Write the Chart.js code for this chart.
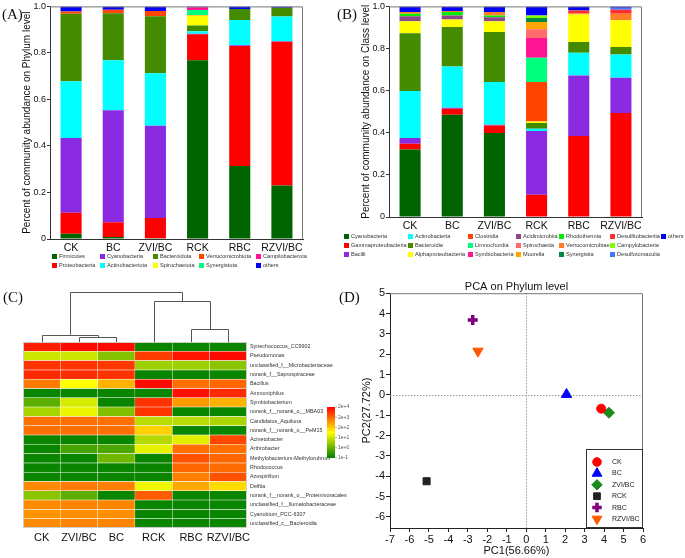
<!DOCTYPE html>
<html><head><meta charset="utf-8">
<script src="https://cdn.jsdelivr.net/npm/chart.js@4.4.0/dist/chart.umd.min.js"></script>
<style>
body{margin:0;background:#fff;width:685px;height:558px;overflow:hidden;position:relative;font-family:'Liberation Sans',Arial,sans-serif}
canvas{position:absolute}
.lbl{position:absolute;font-family:'Liberation Serif','Times New Roman',serif;font-size:15px;color:#111;line-height:1}
.leg{position:absolute;font-size:5.6px;color:#333;white-space:nowrap;line-height:6px}
.leg .sw{display:inline-block;width:5px;height:5px;vertical-align:-1px;margin-right:2px}
</style></head><body>
<canvas id="cA" width="310" height="252" style="left:0;top:0"></canvas>
<canvas id="cB" width="310" height="230" style="left:340px;top:0"></canvas>
<canvas id="cC" width="360" height="262" style="left:0;top:285px"></canvas>
<canvas id="cD" width="345" height="278" style="left:340px;top:280px"></canvas>
<div class="lbl" style="left:2px;top:7px">(A)</div>
<div class="lbl" style="left:337px;top:7px">(B)</div>
<div class="lbl" style="left:3px;top:290px">(C)</div>
<div class="lbl" style="left:339px;top:290px">(D)</div>
<script>
// ---------- DATA ----------
const samples = ['CK','BC','ZVI/BC','RCK','RBC','RZVI/BC'];

const phylumNames = ['Firmicutes','Proteobacteria','Cyanobacteria','Actinobacteriota','Bacteroidota','Spirochaetota','Verrucomicrobiota','Synergistota','Campilobacterota','others'];
const phylumColors = ['#006400','#ff0000','#8a2be2','#00ffff','#458b00','#ffff00','#ff4500','#00ff7f','#ff1493','#0000ff'];
const phylumValues = [
  [0.023,0.009,0.003,0.768,0.314,0.230],
  [0.090,0.063,0.087,0.112,0.516,0.618],
  [0.321,0.481,0.397,0.002,0.003,0.002],
  [0.244,0.215,0.226,0.011,0.108,0.107],
  [0.290,0.203,0.245,0.025,0.048,0.037],
  [0,0,0,0.043,0,0],
  [0.010,0.015,0.022,0.002,0,0],
  [0,0,0,0.022,0,0],
  [0,0,0,0.011,0,0],
  [0.022,0.014,0.020,0.004,0.011,0.006]
];

const classNames = ['Cyanobacteria','Gammaproteobacteria','Bacilli','Actinobacteria','Bacteroidia','Alphaproteobacteria','Clostridia','Limnochordia','Symbiobacteria','Acidimicrobiia','Spirochaetia','Moorella','Rhodothermia','Verrucomicrobiae','Synergistia','Desulfitobacteriia','Campylobacteria','Desulfotomaculia','others'];
const classColors = ['#006400','#ff0000','#8a2be2','#00ffff','#458b00','#ffff00','#ff4500','#00ff7f','#ff1493','#8b4789','#ff6a6a','#ffa500','#00ee00','#ff7f24','#008b45','#ff3030','#7fff00','#4876ff','#0000ff'];
const classValues = [
  [0.321,0.486,0.399,0,0,0],
  [0.027,0.028,0.036,0.106,0.385,0.494],
  [0.027,0.005,0.003,0.302,0.287,0.167],
  [0.223,0.196,0.203,0.011,0.108,0.111],
  [0.275,0.187,0.237,0.027,0.051,0.035],
  [0.057,0.036,0.052,0.008,0.131,0.127],
  [0,0,0,0.187,0,0],
  [0,0,0,0.115,0,0],
  [0,0,0,0.094,0,0],
  [0.023,0.019,0.019,0,0,0],
  [0,0,0,0.041,0,0],
  [0,0,0,0.035,0,0],
  [0.012,0.016,0.008,0,0,0],
  [0.008,0.005,0.016,0,0.005,0.031],
  [0,0,0,0.019,0,0],
  [0,0,0,0,0.014,0.019],
  [0,0,0,0.012,0,0],
  [0,0,0,0,0,0.010],
  [0.027,0.022,0.027,0.043,0.019,0.006]
];
const yTicksAB = [0,0.2,0.4,0.6,0.8,1.0];

const heatCols = ['CK','ZVI/BC','BC','RCK','RBC','RZVI/BC'];
const heatRows = ['Synechococcus_CC9902','Pseudomonas','unclassified_f__Microbacteriaceae','norank_f__Saprospiraceae','Bacillus','Ammoniphilus','Symbiobacterium','norank_f__norank_o__MBA03','Candidatus_Aquiluna','norank_f__norank_o__PeM15','Acinetobacter','Arthrobacter','Methylobacterium-Methylorubrum','Rhodococcus','Azospirillum','Delftia','norank_f__norank_o__Proteinivoracales','unclassified_f__Ilumatobacteraceae','Cyanobium_PCC-6307','unclassified_c__Bacteroidia'];
const heatValues = [
  [0.94,0.98,0.98,0.02,0.02,0.02],
  [0.40,0.40,0.26,0.88,0.96,0.98],
  [0.90,0.90,0.89,0.31,0.31,0.27],
  [0.92,0.91,0.90,0.02,0.02,0.02],
  [0.76,0.50,0.65,0.98,0.78,0.80],
  [0.02,0.02,0.02,0.02,0.97,0.92],
  [0.18,0.42,0.02,0.90,0.70,0.65],
  [0.33,0.46,0.25,0.90,0.02,0.02],
  [0.78,0.78,0.78,0.36,0.36,0.34],
  [0.78,0.78,0.78,0.59,0.02,0.02],
  [0.02,0.02,0.02,0.35,0.44,0.86],
  [0.02,0.14,0.15,0.45,0.78,0.78],
  [0.02,0.02,0.22,0.02,0.84,0.80],
  [0.02,0.02,0.02,0.02,0.80,0.79],
  [0.02,0.02,0.02,0.02,0.75,0.84],
  [0.73,0.76,0.75,0.47,0.67,0.57],
  [0.27,0.18,0.02,0.82,0.02,0.02],
  [0.73,0.74,0.74,0.02,0.02,0.02],
  [0.71,0.72,0.72,0.02,0.02,0.02],
  [0.73,0.74,0.74,0.02,0.02,0.02]
];
// dendrogram merges: [nodeA, nodeB, height]; 0-5 leaves (heatCols order), 6+ merged nodes
const dendroMerges = [[1,2,0.5],[0,6,0.73],[4,5,1.27],[3,8,4.1],[7,9,5.0]];
const colorbarLabels = ['2e+4','2e+3','2e+2','1e+1','1e+0','1e-1'];

const pcaSamples = ['CK','BC','ZVI/BC','RCK','RBC','RZVI/BC'];
const pc1 = [3.85, 2.07, 4.25, -5.12, -2.75, -2.48];
const pc2 = [-0.68, 0.02, -0.88, -4.25, 3.68, 2.15];
const pcaColors = ['#ff0000','#0000ff','#1a8a1a','#222222','#800080','#ff5a00'];
const pcaStyles = ['circle','triangle','rectRot','rect','cross','triangle'];
const pcaRotation = [0,0,0,0,0,180];
const pcaRadius = [4.5,6,5.5,5,5,6];
const pcaBorder = [1,1,1,1,3.5,1];

// ---------- HELPERS ----------
Chart.defaults.font.family = "'Liberation Sans', Arial, sans-serif";
Chart.defaults.color = '#111';

const framePlugin = {id:'frame', afterDraw(chart){
  const {ctx, chartArea:a} = chart;
  ctx.save(); ctx.strokeStyle = '#777'; ctx.lineWidth = 1;
  ctx.beginPath();
  ctx.moveTo(a.left, a.top+0.5); ctx.lineTo(a.right-0.5, a.top+0.5); ctx.lineTo(a.right-0.5, a.bottom);
  ctx.stroke(); ctx.restore();
}};

function heatColor(v){
  let r,g,b;
  if (v < 0.5){ const t = v/0.5; r = Math.round(0 + 255*t); g = Math.round(128 + 127*t); b = 0; }
  else { const t = (v-0.5)/0.5; r = 255; g = Math.round(255*(1-t)); b = 0; }
  return `rgb(${r},${g},${b})`;
}

function buildLegend(names, colors, rows, colX, rowY){
  names.forEach((n,i)=>{
    const c = Math.floor(i/rows), r = i % rows;
    const d = document.createElement('div'); d.className = 'leg';
    d.style.left = colX[c] + 'px'; d.style.top = (rowY[r] - 3) + 'px';
    d.innerHTML = `<span class="sw" style="background:${colors[i]}"></span>${n}`;
    document.body.appendChild(d);
  });
}

function stackedBar(id, names, colors, values, yTitle, yWidth, titlePad, padRight, xHeight){
  return new Chart(document.getElementById(id), {
    type:'bar',
    data:{labels:samples, datasets:names.map((n,i)=>({label:n, data:values[i], backgroundColor:colors[i], borderWidth:0, barPercentage:0.5, categoryPercentage:1}))},
    options:{responsive:false, animation:false,
      layout:{padding:{top:6, right:padRight, left:0, bottom:0}},
      plugins:{legend:{display:false}, tooltip:{enabled:false}},
      scales:{
        x:{stacked:true, grid:{display:false, drawTicks:false}, border:{color:'#333'},
           ticks:{font:{size:10.5}, color:'#111', padding:3, maxRotation:0, minRotation:0, autoSkip:false},
           afterFit:s=>{s.height = xHeight;}},
        y:{stacked:true, min:0, max:1,
           afterBuildTicks:s=>{s.ticks = yTicksAB.map(v=>({value:v}));},
           ticks:{callback:v=> v===0 ? '0' : v.toFixed(1), font:{size:9}, color:'#111', padding:1},
           grid:{drawOnChartArea:false, tickLength:3, color:'#333'}, border:{color:'#333'},
           title:{display:true, text:yTitle, font:{size:10}, color:'#111', padding:{top:titlePad, bottom:0}},
           afterFit:s=>{s.width = yWidth;}}
      }},
    plugins:[framePlugin]
  });
}

// ---------- PANEL A ----------
stackedBar('cA', phylumNames, phylumColors, phylumValues, 'Percent of community abundance on Phylum level', 50, 21, 7, 13);
buildLegend(phylumNames, phylumColors, 2, [52,100,153,199,256], [256,265]);

// ---------- PANEL B ----------
stackedBar('cB', classNames, classColors, classValues, 'Percent of community abundance on Class level', 49, 20, 8, 13);
buildLegend(classNames, classColors, 3, [344,408,468,516,559,610,661], [236,245,254]);

// ---------- PANEL C ----------
const dendroPlugin = {id:'dendro', afterDraw(chart){
  const {ctx, chartArea, scales:{x}} = chart;
  const base = chartArea.top, k = 10;
  const nodes = heatCols.map((c,i)=>({x:x.getPixelForValue(i+0.5), h:0}));
  ctx.save(); ctx.strokeStyle = '#555'; ctx.lineWidth = 1; ctx.beginPath();
  dendroMerges.forEach(([a,b,h])=>{
    const A = nodes[a], B = nodes[b];
    const yA = base - A.h*k, yB = base - B.h*k, yM = Math.round(base - h*k) + 0.5;
    const xA = Math.round(A.x)+0.5, xB = Math.round(B.x)+0.5;
    ctx.moveTo(xA, yA); ctx.lineTo(xA, yM); ctx.lineTo(xB, yM); ctx.lineTo(xB, yB);
    nodes.push({x:(A.x+B.x)/2, h:h});
  });
  ctx.stroke();
  ctx.strokeStyle = '#cccccc';
  ctx.strokeRect(chartArea.left+0.5, chartArea.top+0.5, chartArea.right-chartArea.left-1, chartArea.bottom-chartArea.top-1);
  ctx.restore();
}};
const colorbarPlugin = {id:'cbar', afterDraw(chart){
  const ctx = chart.ctx;
  const x0 = 327, w = 8, top = 122, bottom = 173;
  ctx.save();
  const g = ctx.createLinearGradient(0, bottom, 0, top);
  for (let i=0;i<=10;i++){ g.addColorStop(i/10, heatColor(i/10)); }
  ctx.fillStyle = g; ctx.fillRect(x0, top, w, bottom-top);
  ctx.strokeStyle = '#777'; ctx.lineWidth = 0.6;
  ctx.fillStyle = '#555'; ctx.font = "5px 'Liberation Sans', Arial, sans-serif"; ctx.textBaseline = 'middle';
  colorbarLabels.forEach((t,i)=>{
    const y = top + (bottom-top)*i/(colorbarLabels.length-1);
    ctx.beginPath(); ctx.moveTo(x0+w, y); ctx.lineTo(x0+w+2, y); ctx.stroke();
    ctx.fillText(t, x0+w+3, y);
  });
  ctx.restore();
}};
new Chart(document.getElementById('cC'), {
  type:'bar',
  data:{labels:heatRows, datasets:heatCols.map((c,j)=>({label:c, data:heatRows.map(()=>1),
    backgroundColor:heatRows.map((r,i)=>heatColor(heatValues[i][j])),
    borderColor:'rgba(255,255,255,0.5)', borderWidth:0.6, barPercentage:1, categoryPercentage:1}))},
  options:{indexAxis:'y', responsive:false, animation:false,
    layout:{padding:{top:57, left:23, right:0, bottom:0}},
    plugins:{legend:{display:false}, tooltip:{enabled:false}},
    scales:{
      x:{stacked:true, min:0, max:6,
         afterBuildTicks:s=>{s.ticks = heatCols.map((c,i)=>({value:i+0.5}));},
         ticks:{callback:(v,i)=>heatCols[i], font:{size:11}, color:'#111', padding:3, autoSkip:false, maxRotation:0, minRotation:0},
         grid:{display:false, drawTicks:false}, border:{display:false}, afterFit:s=>{s.height = 19;}},
      y:{stacked:true, position:'right',
         ticks:{font:{size:5.4}, color:'#333', padding:3, autoSkip:false},
         grid:{display:false, drawTicks:false}, border:{display:false}, afterFit:s=>{s.width = 113;}}
    }},
  plugins:[dendroPlugin, colorbarPlugin]
});

// ---------- PANEL D ----------
const zeroLinePlugin = {id:'zero', beforeDatasetsDraw(chart){
  const {ctx, chartArea:a, scales:{x,y}} = chart;
  const px = Math.round(x.getPixelForValue(0))+0.5, py = Math.round(y.getPixelForValue(0))+0.5;
  ctx.save(); ctx.strokeStyle = '#999'; ctx.lineWidth = 1; ctx.setLineDash([1.5,1.5]);
  ctx.beginPath(); ctx.moveTo(px, a.top); ctx.lineTo(px, a.bottom); ctx.moveTo(a.left, py); ctx.lineTo(a.right, py); ctx.stroke();
  ctx.restore();
}};
const pcaLegendPlugin = {id:'pcaLegend', afterDraw(chart){
  const {ctx, chartArea:a} = chart;
  const w = 57, h = 79, left = a.right - w, top = a.bottom - h;
  ctx.save();
  ctx.fillStyle = '#fff'; ctx.fillRect(left, top, w, h);
  ctx.strokeStyle = '#333'; ctx.lineWidth = 1; ctx.strokeRect(left+0.5, top+0.5, w-1, h-1);
  ctx.font = "7px 'Liberation Sans', Arial, sans-serif"; ctx.textBaseline = 'middle';
  pcaSamples.forEach((s,i)=>{
    const y = top + 13 + i*11.4;
    ctx.fillStyle = pcaColors[i]; ctx.strokeStyle = pcaColors[i]; ctx.lineWidth = pcaBorder[i];
    Chart.helpers.drawPoint(ctx, {pointStyle:pcaStyles[i], radius:pcaRadius[i]*0.95, rotation:pcaRotation[i], borderWidth:pcaBorder[i]}, left+11, y);
    ctx.fillStyle = '#222'; ctx.fillText(s, left+26, y);
  });
  ctx.restore();
}};
new Chart(document.getElementById('cD'), {
  type:'scatter',
  data:{datasets:pcaSamples.map((s,i)=>({label:s, data:[{x:pc1[i], y:pc2[i]}],
    pointStyle:pcaStyles[i], pointRotation:pcaRotation[i], pointRadius:pcaRadius[i],
    pointBackgroundColor:pcaColors[i], pointBorderColor:pcaColors[i], pointBorderWidth:pcaBorder[i]}))},
  options:{responsive:false, animation:false,
    layout:{padding:{top:0, right:42, left:0, bottom:0}},
    plugins:{legend:{display:false}, tooltip:{enabled:false},
      title:{display:true, text:'PCA on Phylum level', fullSize:false, font:{size:11, weight:'normal'}, color:'#111', padding:0}},
    scales:{
      x:{type:'linear', min:-7, max:6, ticks:{stepSize:1, font:{size:11}, color:'#111', padding:1},
         grid:{drawOnChartArea:false, tickLength:4, color:'#222'}, border:{color:'#222'},
         title:{display:true, text:'PC1(56.66%)', font:{size:11}, color:'#111', padding:0},
         afterFit:s=>{s.height = 30;}},
      y:{type:'linear', min:-6.55, max:5, ticks:{stepSize:1, includeBounds:false, font:{size:11}, color:'#111', padding:1},
         grid:{drawOnChartArea:false, tickLength:4, color:'#222'}, border:{color:'#222'},
         title:{display:true, text:'PC2(27.72%)', font:{size:11}, color:'#111', padding:{top:20, bottom:0}},
         afterFit:s=>{s.width = 50;}}
    }},
  plugins:[zeroLinePlugin, framePlugin, pcaLegendPlugin]
});
</script>
</body></html>
